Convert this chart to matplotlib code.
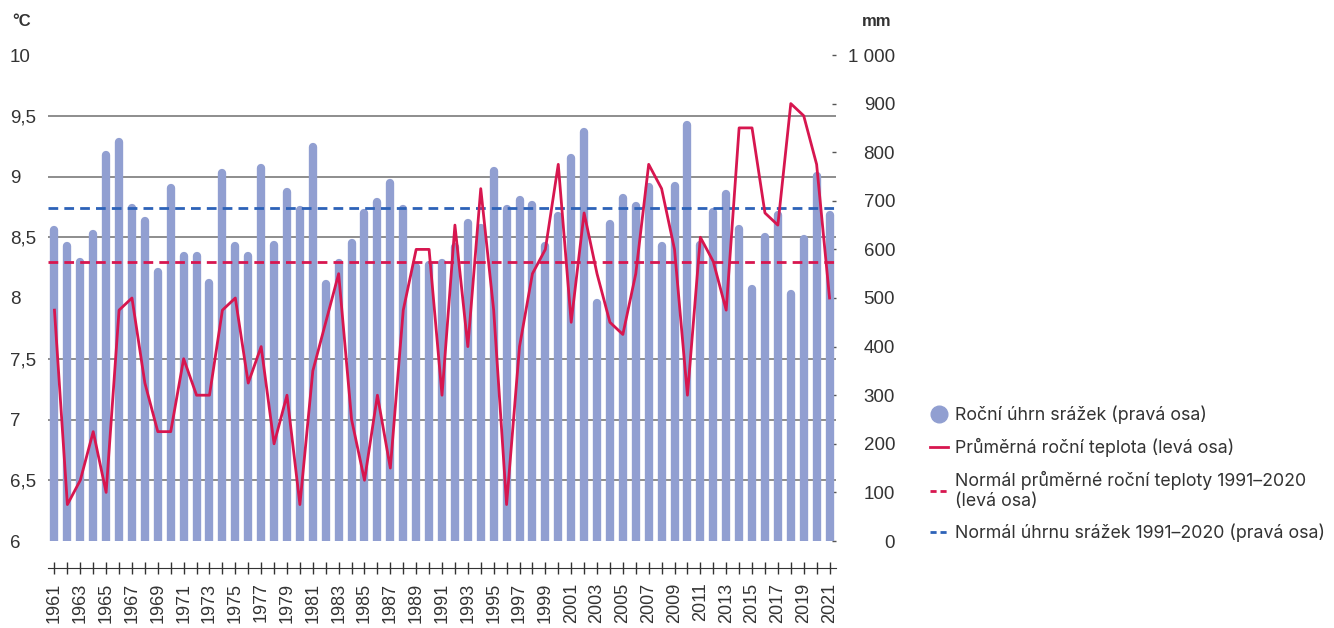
import matplotlib
matplotlib.use('Agg')
import matplotlib.pyplot as plt
from matplotlib.ticker import FuncFormatter, MultipleLocator
from matplotlib.lines import Line2D

# data
years = list(range(1961, 2022))
# rocni uhrn srazek [mm]
srazky = [639, 607, 574, 631, 794, 820, 685, 659, 554, 726,
          587, 587, 530, 757, 608, 587, 767, 610, 719, 682,
          810, 528, 573, 613, 675, 698, 736, 684, 564, 567,
          572, 604, 654, 645, 762, 683, 701, 691, 606, 668,
          788, 841, 489, 653, 706, 690, 728, 606, 731, 855,
          610, 677, 714, 643, 519, 625, 670, 508, 622, 752,
          670]
# prumerna rocni teplota [°C]
teplota = [7.9, 6.3, 6.5, 6.9, 6.4, 7.9, 8.0, 7.3, 6.9, 6.9,
           7.5, 7.2, 7.2, 7.9, 8.0, 7.3, 7.6, 6.8, 7.2, 6.3,
           7.4, 7.8, 8.2, 7.0, 6.5, 7.2, 6.6, 7.9, 8.4, 8.4,
           7.2, 8.6, 7.6, 8.9, 7.9, 6.3, 7.6, 8.2, 8.4, 9.1,
           7.8, 8.7, 8.2, 7.8, 7.7, 8.2, 9.1, 8.9, 8.4, 7.2,
           8.5, 8.3, 7.9, 9.4, 9.4, 8.7, 8.6, 9.6, 9.5, 9.1,
           8.0]
normal_teplota = 8.3
normal_srazky = 685

labels = ['Roční úhrn srážek (pravá osa)',
          'Průměrná roční teplota (levá osa)',
          'Normál průměrné roční teploty 1991–2020\n(levá osa)',
          'Normál úhrnu srážek 1991–2020 (pravá osa)']

c_bar = '#919fd1'
c_red = '#d7164f'
c_blue = '#2d62b8'
c_text = '#333333'
c_grid = '#7a7a7a'

plt.rcParams['font.family'] = ['Liberation Sans', 'DejaVu Sans']

fig = plt.figure(figsize=(13.34, 6.28), dpi=100)
ax_p = fig.add_axes([48 / 1334, 87 / 628, 788 / 1334, 486 / 628])
ax_t = ax_p.twinx()

# srazky - sloupce se zaoblenym vrskem
ax_p.vlines(years, 0, srazky, colors=c_bar, linewidth=6, capstyle='round', zorder=2)
ax_p.axhline(normal_srazky, color=c_blue, lw=2, dashes=(3.5, 2.2), zorder=3)

ax_p.set_xlim(1960.5, 2021.5)
ax_p.set_ylim(0, 1000)
ax_p.yaxis.set_major_locator(MultipleLocator(100))
ax_p.yaxis.set_minor_locator(MultipleLocator(125))
ax_p.yaxis.set_major_formatter(FuncFormatter(lambda v, p: f'{v:,.0f}'.replace(',', ' ')))
ax_p.yaxis.tick_right()
ax_p.tick_params(axis='y', which='major', direction='in', length=3, width=1, color='#555555',
                 labelsize=13.5, labelcolor=c_text, pad=42.5)
ax_p.tick_params(axis='y', which='minor', length=0)
for lb in ax_p.get_yticklabels():
    lb.set_horizontalalignment('right')
ax_p.grid(True, axis='y', which='minor', color=c_grid, lw=1.2)
ax_p.set_axisbelow(True)

ax_p.set_xticks(years)
ax_p.set_xticklabels([str(y) if y % 2 == 1 else '' for y in years])
ax_p.tick_params(axis='x', direction='inout', length=9, width=1, color='#333333',
                 labelsize=13, labelcolor=c_text, pad=6, labelrotation=90)
for s in ['top', 'left', 'right']:
    ax_p.spines[s].set_visible(False)
ax_p.spines['bottom'].set_position(('outward', 19.4))
ax_p.spines['bottom'].set_color('#333333')

# teplota - leva osa
ax_t.plot(years, teplota, color=c_red, lw=2, zorder=4)
ax_t.axhline(normal_teplota, color=c_red, lw=2, dashes=(3.5, 2.2), zorder=3)
ax_t.set_ylim(6, 10)
ax_t.set_yticks([6, 6.5, 7, 7.5, 8, 8.5, 9, 9.5, 10])
ax_t.yaxis.set_major_formatter(FuncFormatter(lambda v, p: f'{v:g}'.replace('.', ',')))
ax_t.yaxis.tick_left()
ax_t.tick_params(axis='y', length=0, labelsize=13.5, labelcolor=c_text, pad=27.4)
for lb in ax_t.get_yticklabels():
    lb.set_horizontalalignment('left')
for s in ax_t.spines.values():
    s.set_visible(False)

fig.text(12 / 1334, 1 - 22 / 628, '°C', fontsize=12, fontweight='bold', color=c_text, va='center')
fig.text(862 / 1334, 1 - 22 / 628, 'mm', fontsize=12, fontweight='bold', color=c_text, va='center')

# legenda
handles = [Line2D([], [], marker='o', ls='none', markersize=12, color=c_bar),
           Line2D([], [], color=c_red, lw=2),
           Line2D([], [], color=c_red, lw=2, dashes=(2.2, 1.4)),
           Line2D([], [], color=c_blue, lw=2, dashes=(2.2, 1.4))]
fig.legend(handles, labels, loc='center left', bbox_to_anchor=(914 / 1334, 1 - 474 / 628),
           frameon=False, handlelength=1.0, handletextpad=0.4, labelspacing=0.78,
           prop={'family': 'Inter', 'size': 12.8}, labelcolor=c_text)

fig.savefig('out.png', dpi=100)
